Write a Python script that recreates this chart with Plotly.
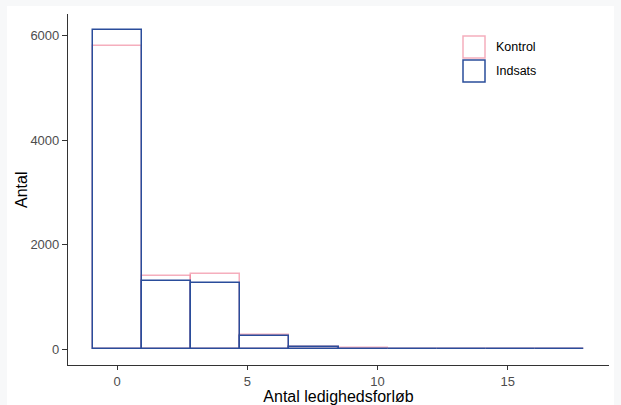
import plotly.graph_objects as go

# Histogram bins (ggplot bins=10 over 0..17, centres)
bin_width = 17 / 9
bin_centers = [0.0, 1.889, 3.778, 5.667, 7.556, 9.444, 11.333, 13.222, 15.111, 17.0]
kontrol = [5800, 1408, 1441, 279, 45, 18, 3, 1, 1, 1]
indsats = [6110, 1301, 1263, 241, 42, 3, 2, 1, 1, 1]
x_ticks = [0, 5, 10, 15]
y_ticks = [0, 2000, 4000, 6000]

PINK = "rgba(238,120,145,0.6)"
BLUE = "#2a4d9b"

fig = go.Figure()
fig.add_trace(go.Bar(x=bin_centers, y=kontrol, width=bin_width, name="Kontrol",
                     marker=dict(color="rgba(0,0,0,0)", line=dict(color=PINK, width=1.5)),
                     showlegend=False))
fig.add_trace(go.Bar(x=bin_centers, y=indsats, width=bin_width, name="Indsats",
                     marker=dict(color="rgba(0,0,0,0)", line=dict(color=BLUE, width=1.5)),
                     showlegend=False))

# page offset of the figure (body margin) and figure size
OX, OY = 7, 6
W, H = 607, 399
L, R, T, B = 61, 5, 8, 40
pw, ph = W - L - R, H - T - B

def px2paper_x(px):
    return (px - OX - L) / pw

def px2paper_y(py):
    return (OY + H - B - py) / ph

shapes = [
    dict(type="rect", xref="paper", yref="paper",
         x0=px2paper_x(463), x1=px2paper_x(485), y0=px2paper_y(58), y1=px2paper_y(36),
         fillcolor="white", line=dict(color=PINK, width=1.5)),
    dict(type="rect", xref="paper", yref="paper",
         x0=px2paper_x(463), x1=px2paper_x(485), y0=px2paper_y(82), y1=px2paper_y(60),
         fillcolor="white", line=dict(color=BLUE, width=1.5)),
]
annotations = [
    dict(text="Kontrol", xref="paper", yref="paper", x=px2paper_x(494), y=px2paper_y(47),
         xanchor="left", yanchor="middle", showarrow=False,
         font=dict(size=12.5, color="#000000", family="Liberation Sans, Arial")),
    dict(text="Indsats", xref="paper", yref="paper", x=px2paper_x(494), y=px2paper_y(71),
         xanchor="left", yanchor="middle", showarrow=False,
         font=dict(size=12.5, color="#000000", family="Liberation Sans, Arial")),
    dict(text="Antal", xref="paper", yref="paper", x=px2paper_x(22), y=px2paper_y(190),
         xanchor="center", yanchor="middle", textangle=-90, showarrow=False,
         font=dict(size=16, color="#000000", family="Liberation Sans, Arial")),
]

fig.update_layout(
    width=W, height=H,
    margin=dict(l=L, r=R, t=T, b=B),
    paper_bgcolor="white",
    plot_bgcolor="white",
    barmode="overlay",
    bargap=0,
    font=dict(family="Liberation Sans, Arial", color="#4d4d4d"),
    shapes=shapes,
    annotations=annotations,
    xaxis=dict(range=[-0.944 - 0.944, 17.944 + 0.944], tickvals=x_ticks, automargin=False,
               showgrid=False, zeroline=False, showline=True, linecolor="#333333", linewidth=1.2,
               ticks="outside", ticklen=4, tickcolor="#333333",
               tickfont=dict(size=13, color="#4d4d4d"),
               title=dict(text="Antal ledighedsforløb", font=dict(size=16, color="#000000"), standoff=1)),
    yaxis=dict(range=[-305, 6415], tickvals=y_ticks, automargin=False,
               showgrid=False, zeroline=False, showline=True, linecolor="#333333", linewidth=1.2,
               ticks="outside", ticklen=5, tickcolor="#333333",
               tickfont=dict(size=13, color="#4d4d4d")),
)

post = ("document.body.style.margin='%dpx 0 0 %dpx';"
        "document.body.style.background='#f7f8f9';"
        "document.body.style.overflow='hidden';") % (OY, OX)
fig.write_html("out.html", post_script=post)
